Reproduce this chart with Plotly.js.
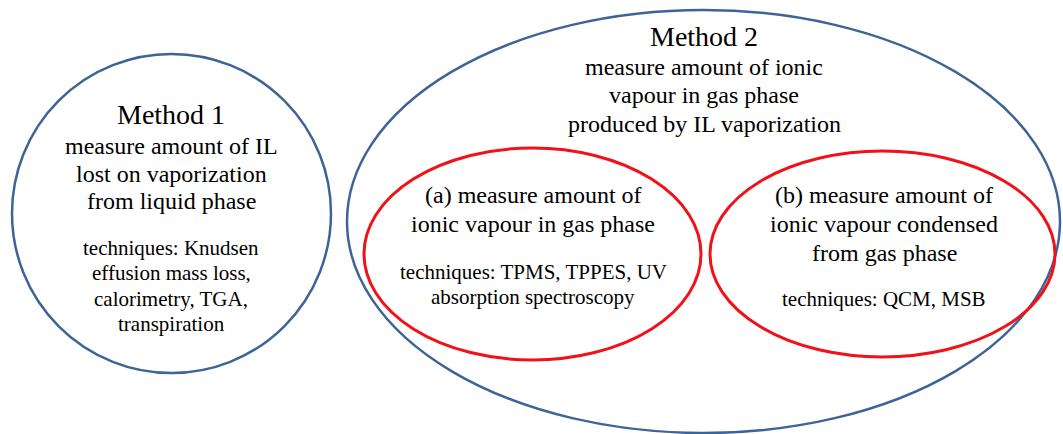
<!DOCTYPE html>
<html>
<head>
<meta charset="utf-8">
<script src="https://cdn.plot.ly/plotly-3.0.1.min.js"></script>
<style>html,body{margin:0;padding:0;background:#fff;}#chart{width:1063px;height:434px;}</style>
</head>
<body>
<div id="chart"></div>
<script>
// ---- content (text) ----
const method1Title = "Method 1";
const method1Lines = ["measure amount of IL", "lost on vaporization", "from liquid phase"];
const method1Techniques = ["techniques: Knudsen", "effusion mass loss,", "calorimetry, TGA,", "transpiration"];

const method2Title = "Method 2";
const method2Lines = ["measure amount of ionic", "vapour in gas phase", "produced by IL vaporization"];

const subALines = ["(a) measure amount of", "ionic vapour in gas phase"];
const subATechniques = ["techniques: TPMS, TPPES, UV", "absorption spectroscopy"];

const subBLines = ["(b) measure amount of", "ionic vapour condensed", "from gas phase"];
const subBTechniques = ["techniques: QCM, MSB"];

// ---- layout ----
const FONT = "Liberation Serif, Times New Roman, serif";
const BLUE = "#3e6398";
const RED = "#f01218";
const annotations = [];
function addBlock(lines, x, yFirst, pitch, size) {
  lines.forEach((t, i) => {
    annotations.push({
      text: t, x: x, y: yFirst + i * pitch, xref: "x", yref: "y",
      xanchor: "center", yanchor: "middle", showarrow: false,
      font: {family: FONT, size: size, color: "#000"}
    });
  });
}
addBlock([method1Title], 171, 114, 0, 28);
addBlock(method1Lines, 171, 146, 27.5, 24);
addBlock(method1Techniques, 171, 248, 25.3, 21);

addBlock([method2Title], 704, 36, 0, 28);
addBlock(method2Lines, 704, 67, 28.3, 24);

addBlock(subALines, 533, 195, 28.5, 24);
addBlock(subATechniques, 533, 272, 24.5, 21);

addBlock(subBLines, 884, 195, 29, 24);
addBlock(subBTechniques, 884, 299, 0, 21);

const shapes = [
  {type: "circle", xref: "x", yref: "y", x0: 12, x1: 331, y0: 54, y1: 373, line: {color: BLUE, width: 2.5}},
  {type: "circle", xref: "x", yref: "y", x0: 347, x1: 1060, y0: 10, y1: 433, line: {color: BLUE, width: 2.5}},
  {type: "circle", xref: "x", yref: "y", x0: 364, x1: 701, y0: 148, y1: 360, line: {color: RED, width: 3}},
  {type: "circle", xref: "x", yref: "y", x0: 710, x1: 1055, y0: 151, y1: 357, line: {color: RED, width: 3}}
];

const layout = {
  width: 1063, height: 434,
  margin: {l: 0, r: 0, t: 0, b: 0},
  paper_bgcolor: "#fff", plot_bgcolor: "#fff",
  xaxis: {range: [0, 1063], visible: false, fixedrange: true},
  yaxis: {range: [434, 0], visible: false, fixedrange: true},
  showlegend: false,
  shapes: shapes,
  annotations: annotations
};
Plotly.newPlot("chart", [], layout, {staticPlot: true, displayModeBar: false});
</script>
</body>
</html>
